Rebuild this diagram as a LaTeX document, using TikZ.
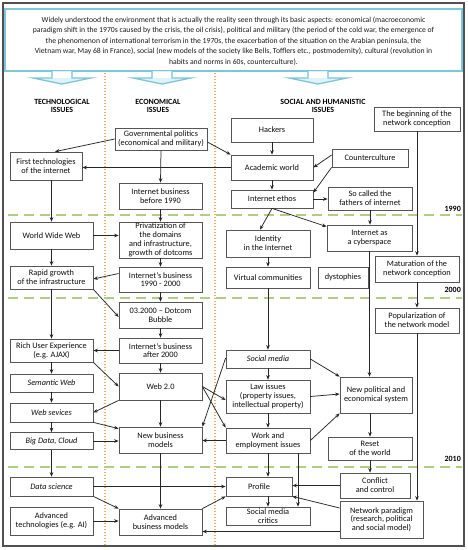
\documentclass[tikz,border=0pt]{standalone}
\usepackage{fontspec}
\setmainfont{Carlito}
\usetikzlibrary{arrows.meta}
\definecolor{lblue}{RGB}{125,198,215}
\definecolor{lbluefill}{RGB}{222,242,247}
\definecolor{dgreen}{RGB}{176,206,128}
\definecolor{dorange}{RGB}{244,170,100}
\definecolor{boxc}{RGB}{85,85,85}
\definecolor{framec}{RGB}{80,80,80}
\newcommand\bxfont{\fontsize{8.3}{8.8}\selectfont}
\tikzset{
  box/.style={draw=boxc, fill=white, line width=0.75pt, inner sep=1pt, align=center, font=\bxfont, text=black!95},
  arr/.style={-{Stealth[length=4.5pt,width=3.6pt]}, line width=0.75pt, draw=black!85},
  hdr/.style={font=\fontsize{7.9}{8.6}\selectfont\bfseries, align=center, inner sep=0pt},
  yr/.style={font=\fontsize{8}{9}\selectfont\bfseries, inner sep=0pt},
  greendash/.style={draw=dgreen, line width=2pt, dash pattern=on 10pt off 6pt},
  orangedot/.style={draw=dorange, line width=1.3pt, dash pattern=on 1.3pt off 1.7pt},
  blockarrow/.style={draw=lblue, fill=lbluefill, line width=1.3pt, line join=miter},
}
\begin{document}
\begin{tikzpicture}[x=1pt,y=-1pt]
\useasboundingbox (0,0) rectangle (467,550);
% frame and top box
\draw[framec, line width=1.4pt] (3,3) rectangle (464,546);
\draw[lblue, line width=1.3pt] (5,9) rectangle (462,71);
\node[inner sep=0pt, align=center, font=\fontsize{7.7}{10.5}\selectfont, text=black!90] (intro) at (233.5,41) {Widely understood the environment that is actually the reality seen through its basic aspects: economical (macroeconomic\\paradigm shift in the 1970s caused by the crisis, the oil crisis), political and military (the period of the cold war, the emergence of\\the phenomenon of international terrorism in the 1970s, the exacerbation of the situation on the Arabian peninsula, the\\Vietnam war, May 68 in France), social (new models of the society like Bells, Tofflers etc., postmodernity), cultural (revolution in\\habits and norms in 60s, counterculture).};
% block arrows
\foreach \cx in {62,162,318}{
  \draw[blockarrow] (\cx-10,71) -- (\cx-10,78) -- (\cx-29,78) -- (\cx,84) -- (\cx+29,78) -- (\cx+10,78) -- (\cx+10,71);
  \fill[white] (\cx-9.3,71.7) rectangle (\cx+9.3,77.5);
}
% separators
\draw[orangedot] (105,73) -- (105,545);
\draw[orangedot] (215,73) -- (215,545);
\draw[greendash] (8,215) -- (462,215);
\draw[greendash] (8,297.5) -- (462,297.5);
\draw[greendash] (8,467) -- (462,467);
\node[yr, anchor=east] (y1990) at (461,209) {1990};
\node[yr, anchor=east] (y2000) at (461,290) {2000};
\node[yr, anchor=east] (y2010) at (461,459) {2010};
% headers
\node[hdr] (h1) at (62,106) {TECHNOLOGICAL\\ISSUES};
\node[hdr] (h2) at (158,106) {ECONOMICAL\\ISSUES};
\node[hdr] (h3) at (323,106) {SOCIAL AND HUMANISTIC\\ISSUES};
% technological column
\node[box, minimum width=72pt, minimum height=28pt] (first) at (46,166) {First technologies\\of the internet};
\node[box, minimum width=83pt, minimum height=27pt] (www) at (51.5,235.5) {World Wide Web};
\node[box, minimum width=83pt, minimum height=23pt] (rapid) at (51.5,277.5) {Rapid growth\\of the infrastructure};
\node[box, minimum width=83pt, minimum height=23pt] (rich) at (51.5,350.5) {Rich User Experience\\(e.g. AJAX)};
\node[box, minimum width=83pt, minimum height=18pt] (sem) at (51.5,383) {\itshape Semantic Web};
\node[box, minimum width=83pt, minimum height=19pt] (websv) at (51.5,412.5) {\itshape Web sevices};
\node[box, minimum width=83pt, minimum height=17pt] (big) at (51.5,441) {\itshape Big Data, Cloud};
\node[box, minimum width=83pt, minimum height=19pt] (dsci) at (51.5,486.5) {\itshape Data science};
\node[box, minimum width=83pt, minimum height=28pt] (advt) at (51.5,521) {Advanced\\technologies (e.g. AI)};
% economical column
\node[box, minimum width=92pt, minimum height=22pt] (gov) at (161,139) {Governmental politics\\(economical and military)};
\node[box, minimum width=83pt, minimum height=26pt] (ib90) at (160.5,196) {Internet business\\before 1990};
\node[box, minimum width=83pt, minimum height=36pt] (priv) at (160.5,240) {Privatization of\\the domains\\and infrastructure,\\growth of dotcoms};
\node[box, minimum width=83pt, minimum height=25pt] (ib9000) at (160.5,279.5) {Internet's business\\1990 - 2000};
\node[box, minimum width=83pt, minimum height=26pt] (dotcom) at (160.5,315) {03.2000 -- Dotcom\\Bubble};
\node[box, minimum width=83pt, minimum height=25pt] (ib2000) at (160.5,350.5) {Internet's business\\after 2000};
\node[box, minimum width=83pt, minimum height=27pt] (web2) at (160.5,386.5) {Web 2.0};
\node[box, minimum width=83pt, minimum height=26pt] (nbm) at (160.5,440) {New business\\models};
\node[box, minimum width=83pt, minimum height=26pt] (advb) at (160.5,522) {Advanced\\business models};
% social column
\node[box, minimum width=82pt, minimum height=24pt] (hack) at (272,130) {Hackers};
\node[box, minimum width=82pt, minimum height=25pt] (acad) at (272,167.5) {Academic world};
\node[box, minimum width=82pt, minimum height=18pt] (ethos) at (272,199) {Internet ethos};
\node[box, minimum width=76pt, minimum height=18pt] (counter) at (370,158) {Counterculture};
\node[box, minimum width=84pt, minimum height=23pt] (fathers) at (370,198.5) {So called the\\fathers of internet};
\node[box, minimum width=86pt, minimum height=24pt] (begin) at (417,119) {The beginning of the\\network conception};
\node[box, minimum width=84pt, minimum height=27pt] (ident) at (268,243.5) {Identity\\in the Internet};
\node[box, minimum width=85pt, minimum height=26pt] (cyber) at (369.5,238) {Internet as\\a cyberspace};
\node[box, minimum width=84pt, minimum height=21pt] (virt) at (268,277.5) {Virtual communities};
\node[box, minimum width=50pt, minimum height=21pt] (dys) at (343,277.5) {dystophies};
\node[box, minimum width=84pt, minimum height=26pt] (matur) at (417,269) {Maturation of the\\network conception};
\node[box, minimum width=84pt, minimum height=25pt] (popul) at (417,320.5) {Popularization of\\the network model};
\node[box, minimum width=84pt, minimum height=18pt] (smed) at (268,359) {\itshape Social media};
\node[box, minimum width=84pt, minimum height=33pt] (law) at (268,396.5) {Law issues\\(property issues,\\intellectual property)};
\node[box, minimum width=72pt, minimum height=36pt] (newpol) at (376,395) {New political and\\economical system};
\node[box, minimum width=84pt, minimum height=25pt] (work) at (268,440.5) {Work and\\employment issues};
\node[box, minimum width=84pt, minimum height=23pt] (reset) at (370,448.5) {Reset\\of the world};
\node[box, minimum width=66pt, minimum height=19pt] (profile) at (259,486.5) {Profile};
\node[box, minimum width=70pt, minimum height=25pt] (conflict) at (375,485.5) {Conflict\\and control};
\node[box, minimum width=84pt, minimum height=18pt] (smcrit) at (268,516) {Social media\\critics};
\node[box, minimum width=83pt, minimum height=37pt] (netpar) at (381.5,519.5) {Network paradigm\\(research, political\\and social model)};
% connectors
\draw[arr] (gov.west) -- ([xshift=9pt]first.north);
\draw[arr] ([yshift=-3pt]gov.east) -- (acad.north west);
\draw[arr] (gov.south) -- (ib90.north);
\draw[arr] (acad.west) -- (acad.west -| first.east);
\draw[arr] (hack.south) -- (acad.north);
\draw[arr] ([yshift=3pt]counter.west) -- (acad.east);
\draw[arr] (counter.south west) -- ([yshift=-3pt]ethos.north east);
\draw[arr] (acad.south) -- (ethos.north);
\draw[arr] (ethos.east) -- (ethos.east -| fathers.west);
\draw[arr] (ethos.south) -- ([xshift=-8pt]ident.north);
\draw[arr] (ethos.south) -- ([yshift=-2pt]cyber.north west);
\draw[arr] (fathers.south) -- (fathers.south |- cyber.north);
\draw[arr] (begin.south) -- (matur.north);
\draw[arr] (ident.south) -- (virt.north);
\draw[arr] (virt.south) -- (smed.north);
\draw[arr] (cyber.south) -- (cyber.south |- newpol.north);
\draw[arr] (matur.south) -- (popul.north);
\draw[arr] (popul.south) -- (popul.south |- netpar.north);
\draw[arr] (first.south -| www.north) -- (www.north);
\draw[arr] (ib90.south) -- (ib90.south |- priv.north);
\draw[arr] (www.east) -- (www.east -| priv.west);
\draw[arr] (www.south) -- (rapid.north);
\draw[arr] (priv.south) -- (ib9000.north);
\draw[arr] ([yshift=6pt]ib9000.west) -- ([yshift=-1.5pt]rapid.east);
\draw[arr] (rapid.south east) -- ([yshift=-2pt]dotcom.west);
\draw[arr] (ib9000.south) -- (dotcom.north);
\draw[arr] (rapid.south) -- (rich.north);
\draw[arr] (dotcom.south) -- (ib2000.north);
\draw[arr] (ib2000.west) -- (rich.east);
\draw[arr] (rich.south east) -- (web2.west);
\draw[arr] (ib2000.south) -- (web2.north);
\draw[arr] (rich.south) -- (sem.north);
\draw[arr] (sem.south) -- (websv.north);
\draw[arr] (web2.south west) -- (websv.east);
\draw[arr] (web2.south) -- (nbm.north);
\draw[arr] (websv.south east) -- ([yshift=-2pt]nbm.north west);
\draw[arr] (websv.south) -- (big.north);
\draw[arr] (big.east) -- (big.east -| nbm.west);
\draw[arr] (big.south) -- (dsci.north);
\draw[arr] (nbm.south) -- (advb.north);
\draw[arr] (dsci.south east) -- (advb.north west);
\draw[arr] (dsci.east) -- (dsci.east -| profile.west);
\draw[arr] (advt.east) -- (advt.east -| advb.west);
\draw[arr] (advb.north east) -- (profile.south west);
\draw[arr] ([yshift=-12pt]netpar.west) -- ([yshift=-12pt]netpar.west -| advb.east);
\draw[arr] ([yshift=11.5pt]netpar.west) -- (profile.south east);
\draw[arr] (conflict.west) -- (conflict.west -| profile.east);
\draw[arr] (reset.south) -- (reset.south |- conflict.north);
\draw[arr] (newpol.south -| reset.north) -- (reset.north);
\draw[arr] (work.south) -- (work.south |- profile.north);
\draw[arr] (profile.south -| smcrit.north) -- (smcrit.north);
\draw[arr] ([xshift=30pt]work.south) -- ([xshift=30pt]smcrit.north);
\draw[arr] (work.east) -- (newpol.south west);
\draw[arr] (law.east) -- ([yshift=1pt]newpol.west);
\draw[arr] (smed.east) -- (newpol.north west);
\draw[arr] (smed.south) -- (law.north);
\draw[arr] (law.south) -- (work.north);
\draw[arr] ([yshift=1pt]smed.west) -- (nbm.north east);
\draw[arr] (web2.east) -- ([yshift=-3.5pt]law.west);
\draw[arr] (web2.east) -- (work.north west);
\draw[arr] (work.west) -- (work.west -| nbm.east);
\end{tikzpicture}
\end{document}
